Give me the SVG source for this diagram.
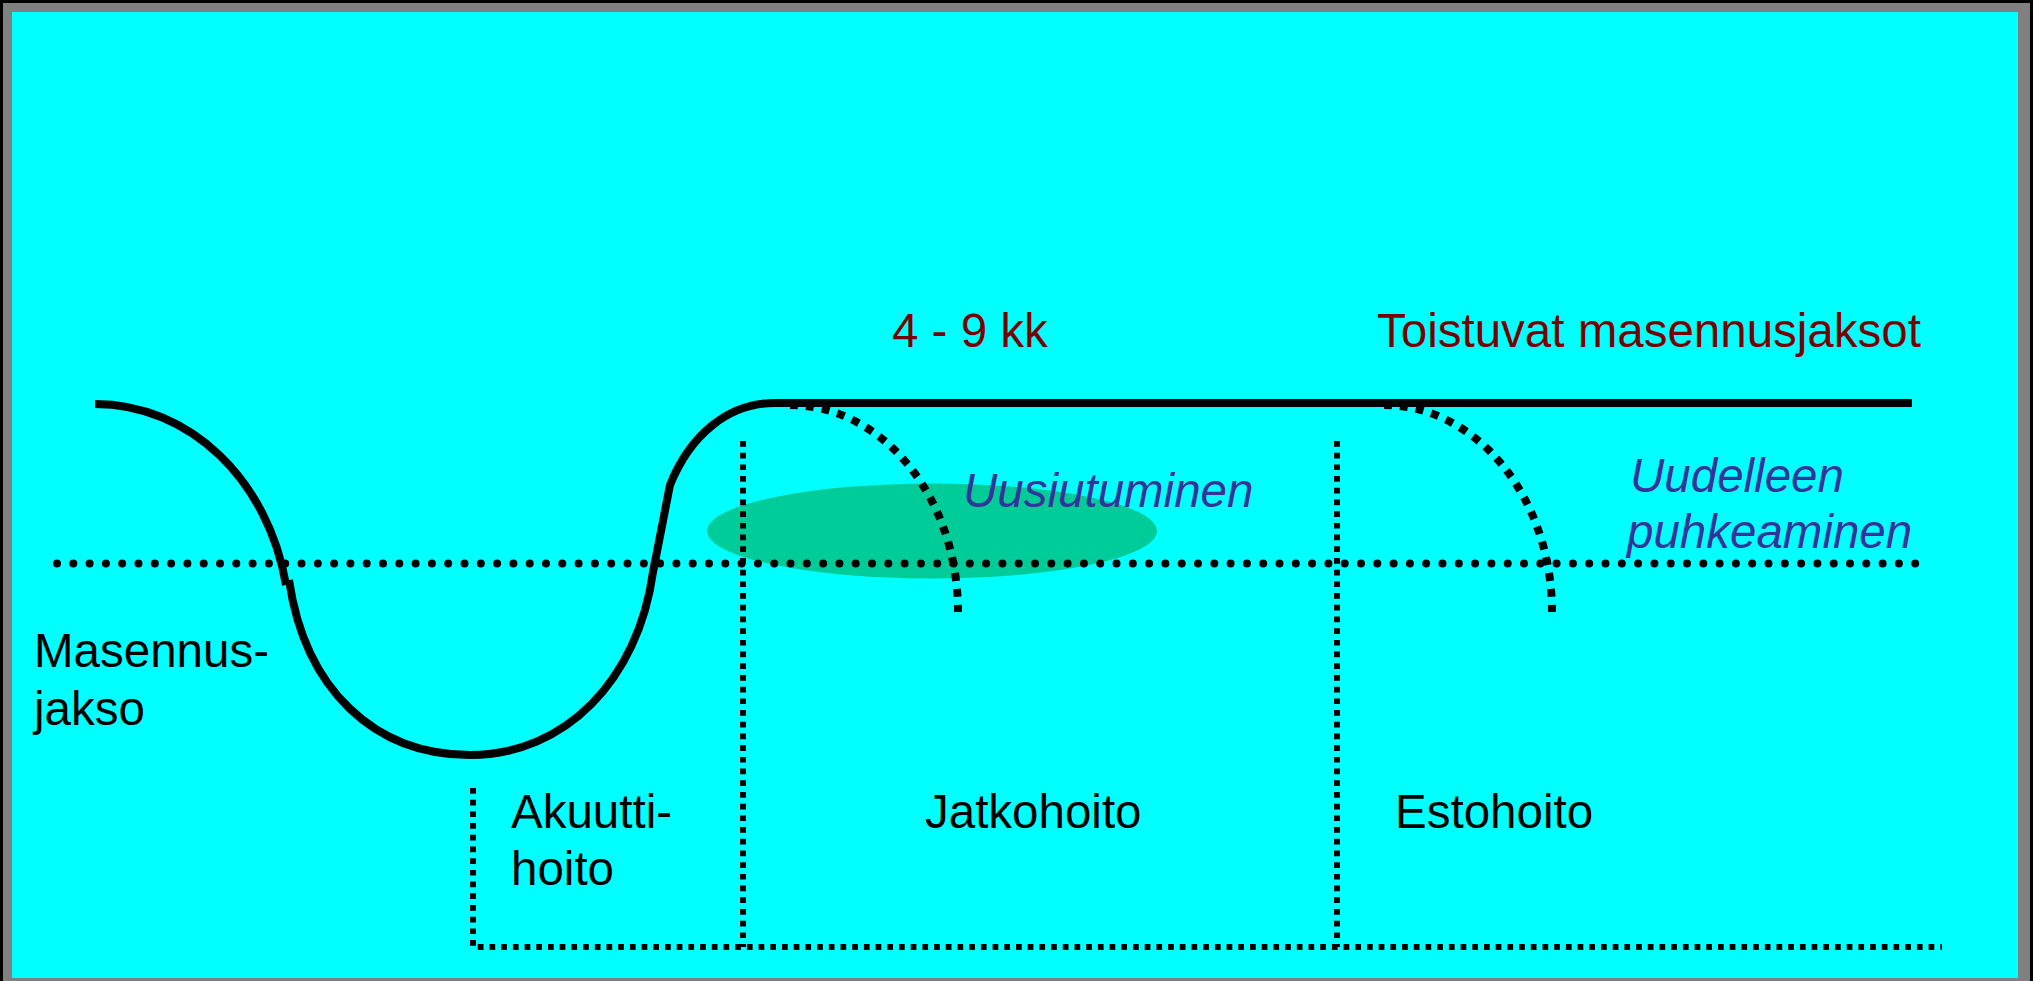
<svg xmlns="http://www.w3.org/2000/svg" width="2033" height="981" viewBox="0 0 2033 981">
<style>
.t{font-family:"Liberation Sans",Arial,sans-serif;font-size:47.5px;fill:#000}
.red{fill:#780000}
.it{font-style:italic;fill:#333399}
.solid{fill:none;stroke:#000;stroke-width:8}
.dots{fill:none;stroke:#000;stroke-width:8;stroke-linecap:round;stroke-dasharray:0 16.3}
.sq{fill:none;stroke:#000;stroke-width:6;stroke-dasharray:5.7 6}
.relapse{fill:none;stroke:#000;stroke-width:8;stroke-dasharray:8 8}
</style>
<rect x="0" y="0" width="2033" height="981" fill="#000"/>
<rect x="3" y="3" width="2027" height="978" fill="#808080"/>
<rect x="12" y="12" width="2006" height="966" fill="#00FFFF"/>
<g id="relapse-zone">
<ellipse cx="932" cy="531" rx="225" ry="47.5" fill="#00CC99"/>
</g>
<g id="connectors">
<path class="dots" d="M57,563.5 H1930"/>
<path class="sq" d="M743,441 V947"/>
<path class="sq" d="M1337,441 V947"/>
<path class="sq" d="M473,788 V947 H1942"/>
<path class="relapse" d="M790,405 A168,207 0 0 1 958,612"/>
<path class="relapse" d="M1384,405 A168,207 0 0 1 1552,612"/>
<path class="solid" d="M95,404 C190,404 268,480 286,585"/>
<path class="solid" d="M289,580 C305,690 375,755 470,755 C565,755 638,680 653,572 L670,485 C690,435 728,403 775,403 L1912,403"/>
</g>
<g id="label-period"><text class="t red" x="892" y="347">4 - 9 kk</text></g>
<g id="label-recurrent"><text class="t red" x="1377" y="347">Toistuvat masennusjaksot</text></g>
<g id="label-relapse"><text class="t it" x="963" y="507">Uusiutuminen</text></g>
<g id="label-recurrence"><text class="t it" x="1630" y="492">Uudelleen</text><text class="t it" x="1627" y="548">puhkeaminen</text></g>
<g id="label-episode"><text class="t" x="34" y="667">Masennus-</text><text class="t" x="34" y="725">jakso</text></g>
<g id="label-acute"><text class="t" x="511" y="828">Akuutti-</text><text class="t" x="511" y="885">hoito</text></g>
<g id="label-continuation"><text class="t" x="925" y="828">Jatkohoito</text></g>
<g id="label-maintenance"><text class="t" x="1395" y="828">Estohoito</text></g>
</svg>
